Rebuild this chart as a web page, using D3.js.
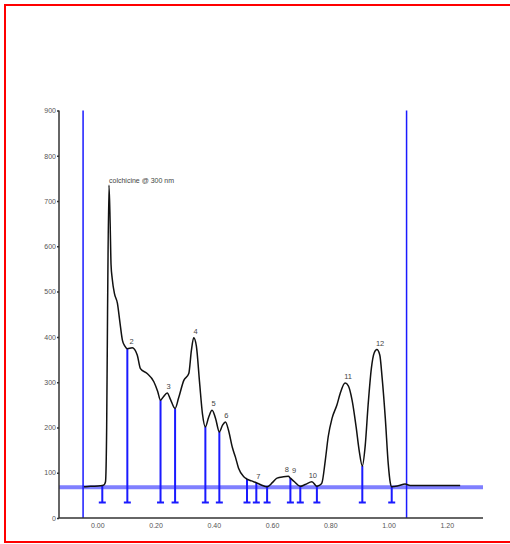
<!DOCTYPE html>
<html lang="en">
<meta charset="utf-8"/>
<head>
<script src="https://d3js.org/d3.v7.min.js"></script>
</head>
<style>
  body { margin: 0; background: #fff; }
  .axis text { font: 7px "Liberation Sans", Arial, sans-serif; fill: #555; }
  .axis path, .axis line { fill: none; stroke: #333; stroke-width: 1.5; }
  .peak { font: 7.5px "Liberation Sans", Arial, sans-serif; fill: #444; }
</style>
<body>
<script>
// trace (time in min, signal)
var traceT = [-0.046, -0.023, 0.011, 0.023, 0.028, 0.032, 0.035, 0.040, 0.044, 0.047, 0.051, 0.059, 0.069,
  0.077, 0.086, 0.094, 0.103, 0.120, 0.137, 0.148, 0.171, 0.194, 0.207, 0.217, 0.227, 0.240, 0.251,
  0.267, 0.279, 0.297, 0.314, 0.323, 0.331, 0.340, 0.351, 0.361, 0.371, 0.382, 0.394, 0.406, 0.419,
  0.430, 0.440, 0.450, 0.464, 0.474, 0.485, 0.503, 0.514, 0.529, 0.546, 0.563, 0.583, 0.601, 0.617,
  0.639, 0.656, 0.663, 0.677, 0.697, 0.714, 0.737, 0.754, 0.762, 0.771, 0.783, 0.793, 0.806, 0.823,
  0.834, 0.851, 0.862, 0.875, 0.889, 0.899, 0.910, 0.920, 0.930, 0.941, 0.951, 0.960, 0.970, 0.978,
  0.989, 0.999, 1.006, 1.011, 1.033, 1.057, 1.074, 1.143, 1.246];
var traceV = [69, 70, 71, 73, 80, 200, 450, 735, 650, 560, 529, 495, 474,
  435, 393, 380, 374, 376, 360, 330, 319, 301, 280, 260, 268, 276, 262,
  242, 265, 304, 319, 370, 398, 380, 300, 230, 201, 222, 238, 220, 190,
  205, 212, 195, 155, 135, 110, 91, 86, 82, 78, 73, 69, 78, 88,
  91, 92, 88, 80, 70, 74, 80, 70, 72, 77, 128, 180, 220, 250,
  275, 298, 292, 260, 200, 150, 115, 160, 250, 330, 365, 372, 360, 310,
  220, 120, 78, 69, 71, 75, 72, 72, 72];

// integration drop lines
var dropT = [0.017, 0.103, 0.217, 0.267, 0.371, 0.419, 0.514, 0.546, 0.583, 0.663, 0.697, 0.754, 0.910, 1.011];
var dropV = [71, 374, 260, 242, 201, 190, 86, 78, 69, 88, 70, 70, 115, 69];
var dropBottom = 34;

// peak labels
var peakNames = ["2", "3", "4", "5", "6", "7", "8", "9", "10", "11", "12"];
var peakT = [0.118, 0.245, 0.337, 0.399, 0.443, 0.553, 0.651, 0.676, 0.740, 0.861, 0.971];
var peakV = [376, 276, 398, 238, 212, 78, 92, 90, 80, 298, 372];

var baseline = 68;
var windowT = [-0.049, 1.062];
var xTicks = [0, 0.2, 0.4, 0.6, 0.8, 1.0, 1.2];
var yTicks = [0, 100, 200, 300, 400, 500, 600, 700, 800, 900];

var svg = d3.select("body").append("svg")
    .attr("width", 510)
    .attr("height", 544);

// red frame
svg.append("rect")
    .attr("x", 5).attr("y", 5)
    .attr("width", 600).attr("height", 537)
    .attr("fill", "none")
    .attr("stroke", "#f00")
    .attr("stroke-width", 2);

var x = d3.scaleLinear().domain([-0.1317, 1.3245]).range([59, 483]);
var y = d3.scaleLinear().domain([0, 900]).range([518, 110.5]);

// baseline band
svg.append("line")
    .attr("x1", 59).attr("x2", 483)
    .attr("y1", y(baseline)).attr("y2", y(baseline))
    .attr("stroke", "#7f7fff")
    .attr("stroke-width", 4);

// time window lines
svg.selectAll(".win")
  .data(windowT).enter()
  .append("line")
    .attr("x1", d => x(d)).attr("x2", d => x(d))
    .attr("y1", y(900)).attr("y2", y(0))
    .attr("stroke", "#1a1aff")
    .attr("stroke-width", 1.5);

// drop lines with caps
var drops = d3.range(dropT.length);
svg.selectAll(".drop")
  .data(drops).enter()
  .append("path")
    .attr("d", function(i) {
      var px = x(dropT[i]), yb = y(dropBottom);
      return "M" + px + "," + y(dropV[i]) + "V" + yb + "M" + (px - 3.5) + "," + yb + "H" + (px + 3.5);
    })
    .attr("fill", "none")
    .attr("stroke", "#1a1aff")
    .attr("stroke-width", 2);

// trace
var line = d3.line()
    .x((d, i) => x(traceT[i]))
    .y(d => y(d))
    .curve(d3.curveMonotoneX);

svg.append("path")
    .datum(traceV)
    .attr("d", line)
    .attr("fill", "none")
    .attr("stroke", "#111")
    .attr("stroke-width", 1.5);

// axes
svg.append("g")
    .attr("class", "axis")
    .attr("transform", "translate(59,0)")
    .call(d3.axisLeft(y).tickValues(yTicks).tickSize(2).tickPadding(1).tickFormat(d3.format("d")))
    .call(g => g.select(".domain").attr("d", "M0," + y(900) + "V" + y(0)));

svg.append("g")
    .attr("class", "axis")
    .attr("transform", "translate(0,518)")
    .call(d3.axisBottom(x).tickValues(xTicks).tickSize(0).tickPadding(5).tickFormat(d3.format(".2f")))
    .call(g => g.select(".domain").attr("d", "M59,0H483"));

// labels
svg.append("text")
    .attr("class", "peak")
    .attr("x", x(0.040))
    .attr("y", y(735) - 2)
    .style("font-size", "7px")
    .text("colchicine @ 300 nm");

svg.selectAll(".plab")
  .data(peakNames).enter()
  .append("text")
    .attr("class", "peak")
    .attr("text-anchor", "middle")
    .attr("x", (d, i) => x(peakT[i]))
    .attr("y", (d, i) => y(peakV[i]) - 4)
    .text(d => d);
</script>
</body>
</html>
